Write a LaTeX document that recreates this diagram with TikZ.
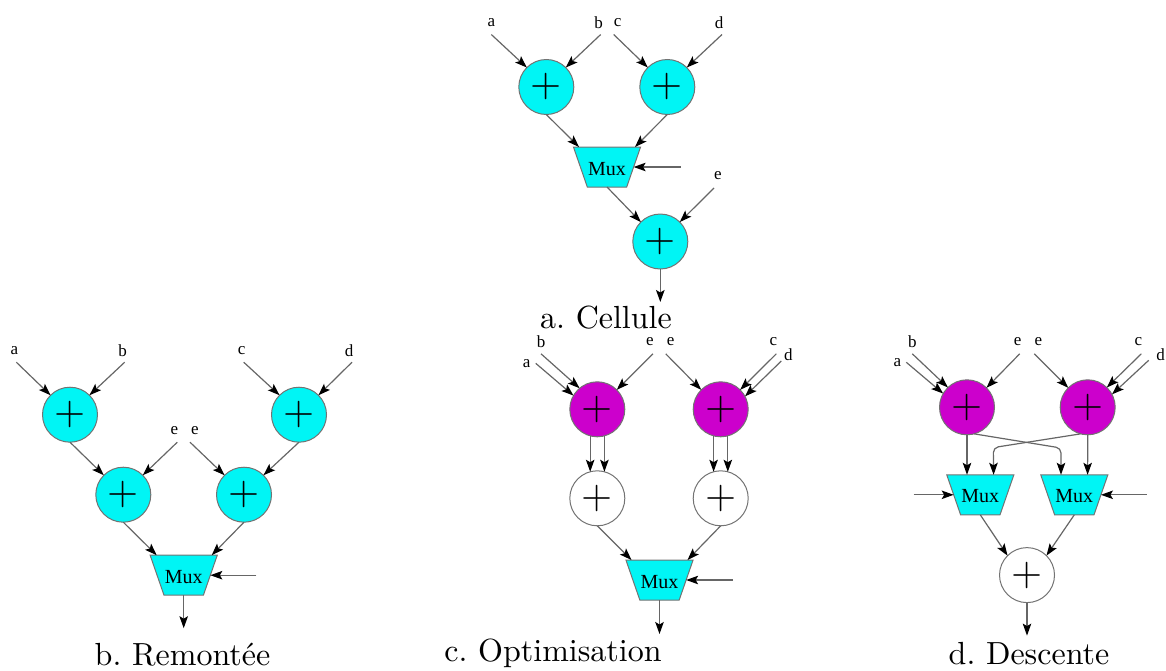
\documentclass[tikz,border=0pt]{standalone}
\usepackage{fontspec}
\newfontfamily\labelfont{Liberation Serif}
\newfontfamily\capfont{lmroman10-regular.otf}
\usetikzlibrary{positioning,arrows.meta,shapes.geometric}
\definecolor{opcyan}{RGB}{0,245,245}
\definecolor{oppurple}{RGB}{204,0,204}
\frenchspacing
\tikzset{
	circuit/.style={x=1pt,y=-1pt,>={Stealth[length=12pt,width=8.5pt,inset=2.5pt,black,fill=black]},node distance=25pt},
	adder/.style={circle,draw=black!55,line width=1pt,minimum size=55pt,inner sep=0pt,outer sep=0pt,font=\capfont\fontsize{40}{40}\selectfont},
	cyanadder/.style={adder,fill=opcyan},
	purpleadder/.style={adder,fill=oppurple},
	muxbox/.style={trapezium,trapezium angle=71.6,shape border rotate=180,trapezium stretches=true,draw=black!55,line width=1pt,fill=opcyan,minimum width=67.3pt,text height=28pt,text depth=12pt,inner sep=0pt,outer sep=0pt,font=\labelfont\fontsize{20}{20}\selectfont},
	inlabel/.style={minimum width=18pt,minimum height=24pt,inner sep=0pt,outer sep=0pt,font=\labelfont\fontsize{17}{17}\selectfont},
	caption/.style={anchor=base,inner sep=0pt,font=\capfont\fontsize{32}{32}\selectfont},
	wire/.style={->,black!60,line width=1.2pt}
}
\begin{document}
\begin{tikzpicture}[circuit]
	\useasboundingbox (0,0) rectangle (1166,671);

	% a. Cellule
	\node[cyanadder] (pa1) at (546.3,87) {+};
	\node[cyanadder] (pa2) [right=66pt of pa1] {+};
	\node[muxbox] (ma) [below=32.5pt of pa1,xshift=60.7pt] {Mux};
	\node[cyanadder] (pa3) [below=27pt of ma,xshift=53.3pt] {+};
	\node[inlabel] (aa) [above=of pa1,xshift=-55pt] {a};
	\node[inlabel] (ab) [above=of pa1,xshift=52.4pt] {b};
	\node[inlabel] (ac) [above=of pa2,xshift=-49.6pt] {c};
	\node[inlabel] (ad) [above=of pa2,xshift=51.7pt] {d};
	\node[inlabel] (ae) [above=26pt of pa3,xshift=57.7pt] {e};
	\coordinate[right=47pt of ma.east] (sa);
	\coordinate[below=33pt of pa3] (oa);
	\node[caption] (capa) at (606,328) {a. Cellule};

	\path[wire] (aa.south) edge (pa1.135);
	\path[wire] ([xshift=2pt]ab.south) edge (pa1.45);
	\path[wire] ([xshift=-4pt]ac.south) edge (pa2.135);
	\path[wire] ([xshift=3pt]ad.south) edge (pa2.45);
	\path[wire] (pa1.south) edge ([xshift=-28pt]ma.north);
	\path[wire] (pa2.south) edge ([xshift=28pt]ma.north);
	\path[wire] (sa) edge (ma.east);
	\path[wire] (ma.south) edge (pa3.135);
	\path[wire] ([xshift=-4pt]ae.south) edge (pa3.45);
	\path[wire] (pa3.south) edge (oa);

	% b. Remontee
	\node[cyanadder] (pb1) at (70,414.7) {+};
	\node[cyanadder] (pb2) [right=174pt of pb1] {+};
	\node[cyanadder] (pb3) [below=of pb1,xshift=53.3pt] {+};
	\node[cyanadder] (pb4) [below=of pb2,xshift=-55pt] {+};
	\node[muxbox] (mb) [below=33pt of pb3,xshift=60.4pt] {Mux};
	\node[inlabel] (ba) [above=of pb1,xshift=-55.7pt] {a};
	\node[inlabel] (bb) [above=of pb1,xshift=52.7pt] {b};
	\node[inlabel] (bc) [above=of pb2,xshift=-57.3pt] {c};
	\node[inlabel] (bd) [above=of pb2,xshift=50pt] {d};
	\node[inlabel] (be1) [above=of pb3,xshift=51pt] {e};
	\node[inlabel] (be2) [above=of pb4,xshift=-49pt] {e};
	\coordinate[right=46pt of mb.east] (sb);
	\coordinate[below=33pt of mb] (ob);
	\node[caption] (capb) at (182.5,665) {b. Remontée};

	\path[wire] ([xshift=2pt]ba.south) edge (pb1.135);
	\path[wire] ([xshift=2pt]bb.south) edge (pb1.45);
	\path[wire] ([xshift=2pt]bc.south) edge (pb2.135);
	\path[wire] ([xshift=3pt]bd.south) edge (pb2.45);
	\path[wire] (pb1.south) edge (pb3.135);
	\path[wire] (pb2.south) edge (pb4.45);
	\path[wire] ([xshift=3pt]be1.south) edge (pb3.45);
	\path[wire] ([xshift=-5pt]be2.south) edge (pb4.135);
	\path[wire] (pb3.south) edge ([xshift=-27pt]mb.north);
	\path[wire] (pb4.south) edge ([xshift=28pt]mb.north);
	\path[wire] (sb) edge (mb.east);
	\path[wire] (mb.south) edge (ob);

	% c. Optimisation
	\node[purpleadder] (pc1) at (597.3,409.3) {+};
	\node[purpleadder] (pc2) [right=68.4pt of pc1] {+};
	\node[adder] (wc1) [below=34pt of pc1] {+};
	\node[adder] (wc2) [below=34pt of pc2] {+};
	\node[muxbox] (mc) [below=34.2pt of wc1,xshift=62.2pt] {Mux};
	\node[inlabel] (ca) [above=6.5pt of pc1,xshift=-70.6pt] {a};
	\node[inlabel] (cb) [above=28pt of pc1,xshift=-56.3pt] {b};
	\node[inlabel] (ce1) [above=28pt of pc1,xshift=52.7pt] {e};
	\node[inlabel] (ce2) [above=28pt of pc2,xshift=-50pt] {e};
	\node[inlabel] (cc) [above=28pt of pc2,xshift=52.6pt] {c};
	\node[inlabel] (cd) [above=14.8pt of pc2,xshift=67.6pt] {d};
	\coordinate[right=47pt of mc.east] (sc);
	\coordinate[below=34pt of mc] (oc);
	\node[caption] (capc) at (553,661.7) {c. Optimisation};

	\path[wire] (ca.east) edge (pc1.150);
	\path[wire] (cb.south) edge (pc1.130);
	\path[wire] ([xshift=3pt]ce1.south) edge (pc1.45);
	\path[wire] ([xshift=-5pt]ce2.south) edge (pc2.135);
	\path[wire] ([xshift=3pt]cc.south) edge (pc2.45);
	\path[wire] ([xshift=-7pt,yshift=-6pt]cd.center) edge (pc2.28);
	\path[wire] (pc1.255) edge (wc1.105);
	\path[wire] (pc1.285) edge (wc1.75);
	\path[wire] (pc2.255) edge (wc2.105);
	\path[wire] (pc2.285) edge (wc2.75);
	\path[wire] (wc1.south) edge ([xshift=-28pt]mc.north);
	\path[wire] (wc2.south) edge ([xshift=28pt]mc.north);
	\path[wire] (sc) edge (mc.east);
	\path[wire] (mc.south) edge (oc);

	% d. Descente
	\node[purpleadder] (pd1) at (967,407.3) {+};
	\node[purpleadder] (pd2) [right=65.7pt of pd1] {+};
	\node[muxbox] (md1) [below=40pt of pd1,xshift=13.3pt] {Mux};
	\node[muxbox] (md2) [below=40pt of pd2,xshift=-13.4pt] {Mux};
	\node[adder] (wd) [below=32.8pt of md1,xshift=46.7pt] {+};
	\node[inlabel] (da) [above=5.5pt of pd1,xshift=-69.7pt] {a};
	\node[inlabel] (db) [above=26pt of pd1,xshift=-54.7pt] {b};
	\node[inlabel] (de1) [above=26pt of pd1,xshift=50.7pt] {e};
	\node[inlabel] (de2) [above=26pt of pd2,xshift=-49.4pt] {e};
	\node[inlabel] (dc) [above=26pt of pd2,xshift=50.6pt] {c};
	\node[inlabel] (dd) [above=13.5pt of pd2,xshift=73pt] {d};
	\coordinate[left=40pt of md1.west] (sd1);
	\coordinate[right=46pt of md2.east] (sd2);
	\coordinate[below=33pt of wd] (od);
	\coordinate (bd1) at (1061,448);
	\coordinate (bd2) at (993.3,447.6);
	\node[caption] (capd) at (1029,664) {d. Descente};

	\path[wire] (da.east) edge (pd1.150);
	\path[wire] (db.south) edge (pd1.134);
	\path[wire] ([xshift=2pt]de1.south) edge (pd1.45);
	\path[wire] ([xshift=-4pt]de2.south) edge (pd2.135);
	\path[wire] ([xshift=3pt]dc.south) edge (pd2.46);
	\path[wire] ([xshift=-12pt,yshift=-6pt]dd.center) edge (pd2.28);
	\path[wire] (pd1.south) edge ([xshift=-13.3pt]md1.north);
	\path[wire] (pd2.south) edge ([xshift=13.3pt]md2.north);
	\draw[wire,rounded corners=5pt] (pd1.285) -- (bd1) -- ([xshift=-13.3pt]md2.north);
	\draw[wire,rounded corners=5pt] (pd2.255) -- (bd2) -- ([xshift=13.3pt]md1.north);
	\path[wire] (sd1) edge (md1.west);
	\path[wire] (sd2) edge (md2.east);
	\path[wire] (md1.south) edge (wd.135);
	\path[wire] (md2.south) edge (wd.45);
	\path[wire] (wd.south) edge (od);
\end{tikzpicture}
\end{document}
